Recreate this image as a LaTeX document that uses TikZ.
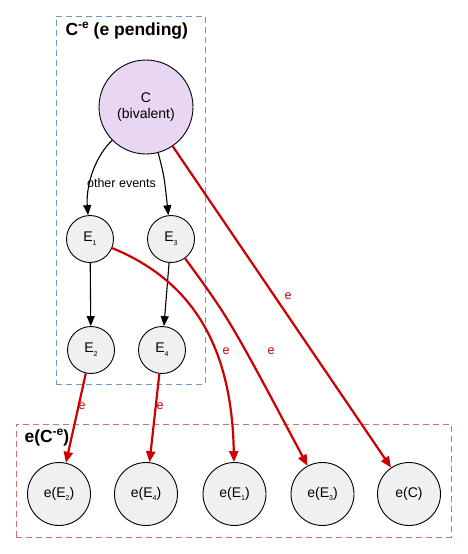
\documentclass[tikz,border=0pt]{standalone}
\usepackage{fontspec}
\setmainfont{Liberation Sans}
\usetikzlibrary{arrows.meta}
\definecolor{cred}{HTML}{CC0000}
\definecolor{bluebox}{HTML}{6C9BD2}
\definecolor{redbox}{HTML}{D07070}
\definecolor{nodefill}{HTML}{F0F0F0}
\definecolor{cfill}{HTML}{E8D6F3}
\newcommand{\sbs}[1]{\raisebox{-0.5ex}{\fontsize{7}{7}\selectfont #1}}
\newcommand{\sps}[1]{\raisebox{0.75ex}{\fontsize{12}{12}\selectfont #1}}
\begin{document}
\begin{tikzpicture}[x=1pt,y=-1pt,
  ev/.style={circle,draw=black,line width=0.9pt,fill=nodefill,minimum size=47pt,inner sep=0pt,font=\fontsize{14}{16}\selectfont},
  bev/.style={circle,draw=black,line width=0.9pt,fill=nodefill,minimum size=63pt,inner sep=0pt,font=\fontsize{14}{16}\selectfont},
  blk/.style={draw=black,line width=1.1pt,-{Triangle[length=10pt,width=8pt]}},
  redarr/.style={draw=cred,line width=2.2pt,-{Triangle[length=11pt,width=9pt]}},
  elab/.style={text=cred,font=\fontsize{12.5}{14}\selectfont},
  ttl/.style={font=\bfseries\fontsize{17.5}{20}\selectfont,anchor=west}]
\useasboundingbox (0,0) rectangle (467,554);
% group boxes
\node[draw=bluebox,dashed,dash pattern=on 6pt off 4pt,line width=1pt,minimum width=149pt,minimum height=368pt,inner sep=0pt] (gbox) at (130.5,200) {};
\node[draw=redbox,dashed,dash pattern=on 6pt off 4pt,line width=1pt,minimum width=435pt,minimum height=113pt,inner sep=0pt] (rbox) at (233.5,480.5) {};
\node[ttl] (t1) at (62,31) {C\sps{-e} (e pending)};
\node[ttl] (t2) at (21,438) {e(C\sps{-e})};
% nodes
\node[circle,draw=black,line width=0.9pt,fill=cfill,minimum size=94pt,inner sep=0pt,align=center,font=\fontsize{14}{16}\selectfont] (C) at (146,107) {C\\(bivalent)};
\node[ev] (E1) at (90,239) {E\sbs{1}};
\node[ev] (E3) at (171,239) {E\sbs{3}};
\node[ev] (E2) at (91,350) {E\sbs{2}};
\node[ev] (E4) at (162,350) {E\sbs{4}};
\node[bev] (eE2) at (59,494) {e(E\sbs{2})};
\node[bev] (eE4) at (146,494) {e(E\sbs{4})};
\node[bev] (eE1) at (234.5,494) {e(E\sbs{1})};
\node[bev] (eE3) at (322.5,494) {e(E\sbs{3})};
\node[bev] (eC) at (409,494) {e(C)};
% black edges
\draw[blk] (C) .. controls (92,160) and (86,190) .. (E1);
\node[font=\fontsize{12.5}{14}\selectfont] (oe) at (121.5,183) {other events};
\draw[blk] (C) .. controls (164,175) .. (E3);
\draw[blk] (E1) -- (E2);
\draw[blk] (E3) -- (E4);
% red edges
\draw[redarr] (E2) -- (eE2);
\node[elab] (l1) at (82,406) {e};
\draw[redarr] (E4) -- (eE4);
\node[elab] (l2) at (160,406) {e};
\draw[redarr] (E1) .. controls (195,282) and (232,350) .. (eE1);
\node[elab] (l3) at (226,351) {e};
\draw[redarr] (E3) .. controls (230,320) .. (eE3);
\node[elab] (l4) at (271,351) {e};
\draw[redarr] (C) -- (eC);
\node[elab] (l5) at (288,296) {e};
\end{tikzpicture}
\end{document}
